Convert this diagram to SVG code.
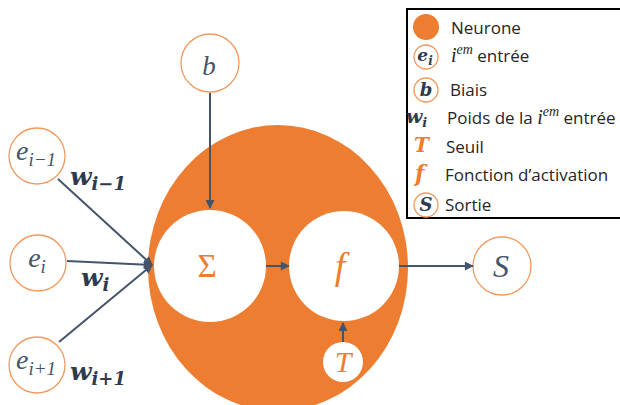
<svg xmlns="http://www.w3.org/2000/svg" width="620" height="405" viewBox="0 0 620 405">
<style>
.m{font-family:"Liberation Serif","DejaVu Serif",serif;font-style:italic;fill:#44546A}
.mb{font-family:"DejaVu Serif","Liberation Serif",serif;font-style:italic;font-weight:bold;fill:#2F3B4C}
.o{fill:#ED7D31}
.lg{font-family:"Open Sans","Liberation Sans",sans-serif;font-size:17px;fill:#262626}
.in{fill:#fff;stroke:#F19A5E;stroke-width:1.3}
.c{stroke:#44546A;stroke-width:2;fill:none}
</style>
<defs>
<marker id="ah" viewBox="0 0 10 10" refX="9" refY="5" markerWidth="5" markerHeight="4.5" orient="auto" markerUnits="strokeWidth">
<path d="M0,0 L10,5 L0,10 z" fill="#44546A"/>
</marker>
</defs>
<g id="neuron">
<ellipse cx="278" cy="268" rx="130" ry="143" fill="#ED7D31"/>
</g>
<g id="sum">
<circle cx="210" cy="266" r="56" fill="#fff"/>
<text x="207" y="277" text-anchor="middle" font-family="Liberation Serif,serif" font-size="33" class="o">Σ</text>
</g>
<g id="activation">
<circle cx="344" cy="266" r="55" fill="#fff"/>
<text x="340" y="279" text-anchor="middle" class="m" font-size="38" style="fill:#ED7D31">f</text>
</g>
<g id="threshold">
<circle cx="343" cy="362" r="20" fill="#fff"/>
<text x="343" y="372" text-anchor="middle" class="m" font-size="30" style="fill:#ED7D31">T</text>
</g>
<g id="bias">
<circle cx="210" cy="63" r="29" class="in"/>
<text x="209" y="75" text-anchor="middle" class="m" font-size="27">b</text>
</g>
<g id="e_im1">
<circle cx="37" cy="156" r="28" class="in"/>
<text x="36" y="160" text-anchor="middle" class="m" font-size="28">e<tspan font-size="19" dy="6">i−1</tspan></text>
</g>
<g id="e_i">
<circle cx="38" cy="263" r="28" class="in"/>
<text x="37" y="267" text-anchor="middle" class="m" font-size="28">e<tspan font-size="19" dy="6">i</tspan></text>
</g>
<g id="e_ip1">
<circle cx="37" cy="365" r="28" class="in"/>
<text x="36" y="369" text-anchor="middle" class="m" font-size="28">e<tspan font-size="19" dy="6">i+1</tspan></text>
</g>
<g id="output">
<circle cx="502" cy="266" r="29" class="in"/>
<text x="501" y="277" text-anchor="middle" class="m" font-size="32">S</text>
</g>
<g id="connectors">
<line x1="58" y1="179" x2="152" y2="265" class="c" marker-end="url(#ah)"/>
<line x1="67" y1="261" x2="152" y2="265" class="c" marker-end="url(#ah)"/>
<line x1="59" y1="342" x2="152" y2="265" class="c" marker-end="url(#ah)"/>
<line x1="210" y1="93" x2="210" y2="208" class="c" marker-end="url(#ah)"/>
<line x1="266" y1="266" x2="289" y2="266" class="c" marker-end="url(#ah)"/>
<line x1="399" y1="266" x2="473" y2="266" class="c" marker-end="url(#ah)"/>
<line x1="343" y1="342" x2="343" y2="323" class="c" marker-end="url(#ah)"/>
</g>
<g id="weights">
<text x="70" y="185" class="mb" font-size="25">w<tspan font-size="18" dy="5">i−1</tspan></text>
<text x="81" y="286" class="mb" font-size="25">w<tspan font-size="18" dy="5">i</tspan></text>
<text x="70" y="380" class="mb" font-size="25">w<tspan font-size="18" dy="5">i+1</tspan></text>
</g>
<g id="legend">
<rect x="407" y="9" width="220" height="209" fill="#fff" stroke="#000" stroke-width="2"/>
<circle cx="426" cy="27" r="13" fill="#ED7D31"/>
<text x="451" y="34" class="lg">Neurone</text>
<circle cx="426" cy="57" r="12" class="in"/>
<text x="425" y="61" text-anchor="middle" class="mb" font-size="17">e<tspan font-size="12" dy="4">i</tspan></text>
<text x="451" y="62" class="lg"><tspan class="m" font-size="20" style="fill:#262626">i</tspan><tspan class="m" font-size="14" dy="-8" style="fill:#262626">em</tspan><tspan dy="8"> entrée</tspan></text>
<circle cx="426" cy="90" r="12" class="in"/>
<text x="426" y="96" text-anchor="middle" class="mb" font-size="18">b</text>
<text x="450" y="96" class="lg">Biais</text>
<text x="406" y="123" class="mb" font-size="19">w<tspan font-size="13" dy="4">i</tspan></text>
<text x="447" y="124" class="lg">Poids de la <tspan class="m" font-size="20" style="fill:#262626">i</tspan><tspan class="m" font-size="14" dy="-8" style="fill:#262626">em</tspan><tspan dy="8"> entrée</tspan></text>
<text x="414" y="152" class="mb" font-size="20" style="fill:#ED7D31">T</text>
<text x="446" y="153" class="lg">Seuil</text>
<text x="415" y="181" class="mb" font-size="22" style="fill:#ED7D31">f</text>
<text x="445" y="181" class="lg">Fonction d’activation</text>
<circle cx="426" cy="205" r="12" class="in"/>
<text x="426" y="211" text-anchor="middle" class="mb" font-size="18">S</text>
<text x="445" y="211" class="lg">Sortie</text>
</g>
</svg>
